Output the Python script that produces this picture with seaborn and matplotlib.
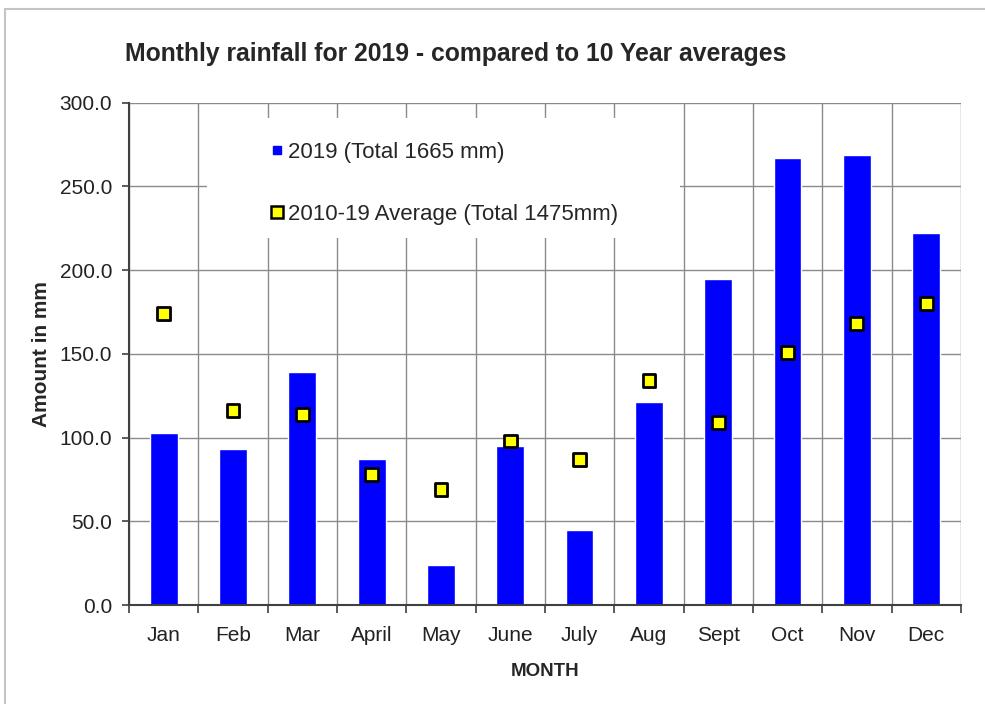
import matplotlib

matplotlib.use("Agg")
import matplotlib.patheffects as pe
import matplotlib.pyplot as plt
import numpy as np
import seaborn as sns
from matplotlib.lines import Line2D
from matplotlib.patches import Rectangle

months = ["Jan", "Feb", "Mar", "April", "May", "June", "July", "Aug", "Sept", "Oct", "Nov", "Dec"]
rain_2019 = [103, 93, 139, 87, 24, 95, 45, 121, 195, 267, 269, 222]
avg_2010_19 = [174, 116, 114, 78, 69, 98, 87, 134, 109, 151, 168, 180]
y_ticks = [0, 50, 100, 150, 200, 250, 300]

label_2019 = "2019 (Total 1665 mm)"
label_avg = "2010-19 Average (Total 1475mm)"
title = "Monthly rainfall for 2019 - compared to 10 Year averages"


def plot_monthly_rainfall(save_path="out.png"):
    """Bars for this year's rainfall, squares for the ten year average."""
    sns.set_theme(style="white")
    plt.rcParams["font.family"] = ["Liberation Sans", "DejaVu Sans"]

    fig = plt.figure(figsize=(9.85, 7.04), dpi=100)
    ax = fig.add_axes([0.131, 0.1406, 0.8445, 0.7134])

    sns.barplot(x=months, y=rain_2019, color="#0000FF", saturation=1, width=0.4, ax=ax, zorder=2)
    sns.scatterplot(
        x=months,
        y=avg_2010_19,
        marker="s",
        s=85,
        color="#FFFF00",
        edgecolor="black",
        linewidth=2,
        ax=ax,
        zorder=3,
        path_effects=[pe.SimplePatchShadow(offset=(1.5, -1.5), alpha=0.4), pe.Normal()],
    )

    # white box behind the legend hides the grid there
    ax.add_patch(
        Rectangle((0.094, 0.73), 0.568, 0.24, transform=ax.transAxes, facecolor="white", edgecolor="none", zorder=1)
    )

    ax.set_xlim(-0.5, len(months) - 0.5)
    ax.set_ylim(0, 300)
    ax.set_yticks(y_ticks)
    ax.set_yticklabels([f"{v:.1f}" for v in y_ticks])
    ax.set_xticks(np.arange(len(months)))
    ax.set_xticklabels(months)
    ax.set_xticks(np.arange(-0.5, len(months)), minor=True)

    ax.set_axisbelow(True)
    ax.grid(True, axis="y", color="#8a8a8a", linewidth=1)
    ax.grid(True, axis="x", which="minor", color="#8a8a8a", linewidth=1)
    ax.grid(False, axis="x", which="major")

    ax.tick_params(axis="y", which="major", left=True, length=5, width=1.2, color="#404040", pad=7, labelsize=15)
    ax.tick_params(axis="x", which="major", bottom=True, length=0, pad=15, labelsize=15)
    ax.tick_params(axis="x", which="minor", bottom=True, length=6, width=1.2, color="#404040")
    for label in ax.get_xticklabels() + ax.get_yticklabels():
        label.set_color("#222222")

    for side in ["top", "right"]:
        ax.spines[side].set_visible(False)
    for side in ["left", "bottom"]:
        ax.spines[side].set_color("#404040")
        ax.spines[side].set_linewidth(1.5)

    ax.set_xlabel("MONTH", fontsize=13.5, fontweight="bold")
    ax.set_ylabel("Amount in mm", fontsize=15, fontweight="bold")
    ax.xaxis.set_label_coords(0.5, -0.1155)
    ax.yaxis.set_label_coords(-0.094, 0.5)

    handles = [
        Line2D([], [], linestyle="none", marker="s", markersize=6, color="#0000FF"),
        Line2D([], [], linestyle="none", marker="s", markersize=9, markerfacecolor="#FFFF00",
               markeredgecolor="black", markeredgewidth=1.8),
    ]
    ax.legend(
        handles,
        [label_2019, label_avg],
        loc="upper left",
        bbox_to_anchor=(0.157, 0.944),
        frameon=False,
        fontsize=16,
        borderpad=0,
        handlelength=0.6,
        handletextpad=0.16,
        labelspacing=1.83,
    )

    fig.text(0.127, 0.923, title, ha="left", va="center", fontsize=17.8, fontweight="bold")

    # light frame along the top and left edge of the image
    fig.add_artist(Line2D([5 / 985, 1], [1 - 9 / 704, 1 - 9 / 704], transform=fig.transFigure, color="#c4c4c4", linewidth=1.5))
    fig.add_artist(Line2D([5 / 985, 5 / 985], [0, 1 - 9 / 704], transform=fig.transFigure, color="#c4c4c4", linewidth=1.5))

    fig.savefig(save_path, dpi=100)
    return fig, ax


plot_monthly_rainfall()
